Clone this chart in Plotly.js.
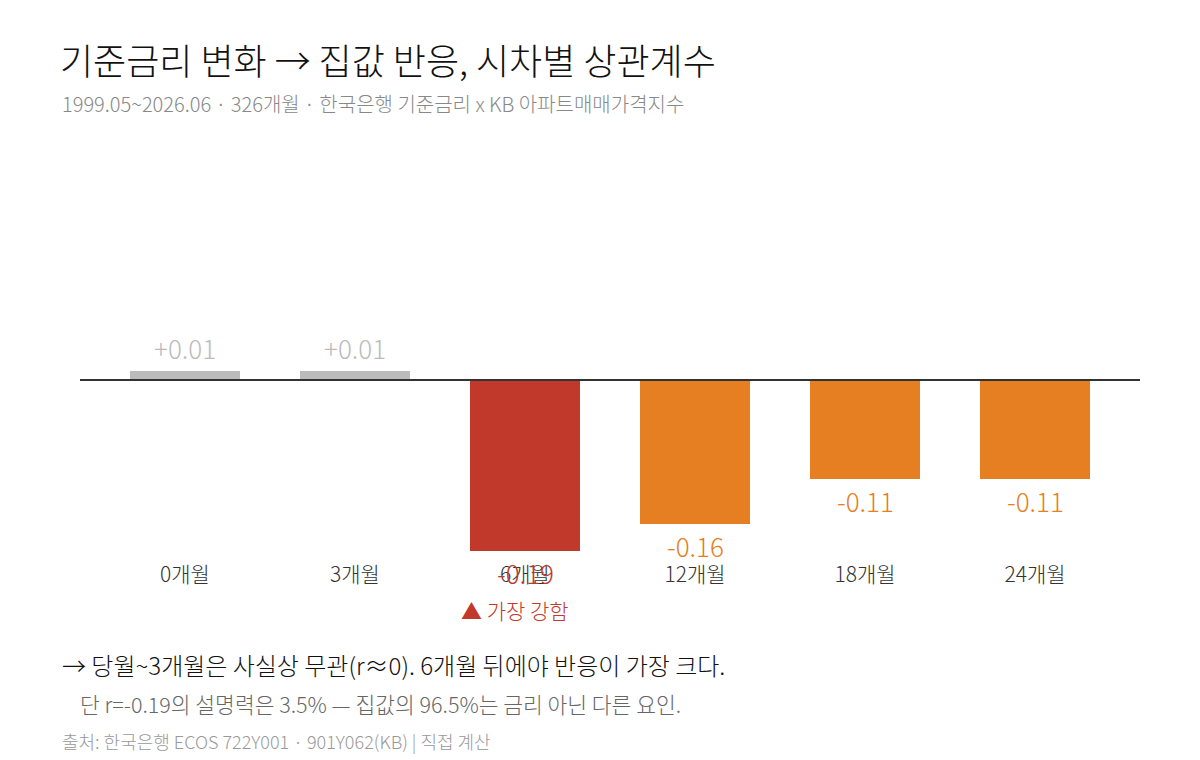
<!DOCTYPE html>
<html>
<head>
<meta charset="utf-8">
<script src="https://cdn.plot.ly/plotly-3.0.1.min.js"></script>
<style>html,body{margin:0;padding:0;background:#fff;}#chart{width:1200px;height:760px;}</style>
</head>
<body>
<div id="chart"></div>
<script>
const categories = ['0개월', '3개월', '6개월', '12개월', '18개월', '24개월'];
const values = [0.01, 0.01, -0.19, -0.16, -0.11, -0.11];
const valueLabels = ['+0.01', '+0.01', '-0.19', '-0.16', '-0.11', '-0.11'];

const FONT = '"Noto Sans CJK KR", "Noto Sans", sans-serif';
const WEIGHT = 300;
const GRAY = '#bbbbbb', RED = '#c0392b', ORANGE = '#e67e22';
const minV = Math.min(...values);
const colors = values.map(v => v >= 0 ? GRAY : (v === minV ? RED : ORANGE));

// plot area geometry (pixels) for paper-coordinate text placement
const W = 1200, H = 760, ML = 100, MR = 80, MT = 120, MB = 200;
const PW = W - ML - MR, PH = H - MT - MB;
const px = x => (x - ML) / PW;
const py = y => (H - MB - y) / PH;
const f = (size, color) => ({family: FONT, size: size, color: color, weight: WEIGHT});

const annotations = values.map((v, i) => ({
  x: categories[i], y: v, xref: 'x', yref: 'y',
  text: valueLabels[i], showarrow: false,
  yanchor: v >= 0 ? 'bottom' : 'top',
  yshift: v >= 0 ? 3 : -1,
  font: f(26, v >= 0 ? GRAY : colors[i])
}));

annotations.push(
  {x: '6개월', xref: 'x', y: py(610), yref: 'paper', text: '▲ 가장 강함', showarrow: false,
   xanchor: 'center', yanchor: 'middle', xshift: -10, font: f(21, RED)},
  {x: px(60), xref: 'paper', y: py(103), yref: 'paper', xanchor: 'left', yanchor: 'middle',
   text: '1999.05~2026.06 · 326개월 · 한국은행 기준금리 x KB 아파트매매가격지수', showarrow: false,
   font: f(20, '#888888')},
  {x: px(60), xref: 'paper', y: py(664), yref: 'paper', xanchor: 'left', yanchor: 'middle',
   text: '→ 당월~3개월은 사실상 무관(r≈0). 6개월 뒤에야 반응이 가장 크다.', showarrow: false,
   font: f(24, '#111111')},
  {x: px(78), xref: 'paper', y: py(703), yref: 'paper', xanchor: 'left', yanchor: 'middle',
   text: '단 r=-0.19의 설명력은 3.5% — 집값의 96.5%는 금리 아닌 다른 요인.', showarrow: false,
   font: f(21.5, '#666666')},
  {x: px(60), xref: 'paper', y: py(741), yref: 'paper', xanchor: 'left', yanchor: 'middle',
   text: '출처: 한국은행 ECOS 722Y001 · 901Y062(KB) | 직접 계산', showarrow: false,
   font: f(18, '#999999')}
);

const trace = {
  type: 'bar', x: categories, y: values,
  marker: {color: colors}, hoverinfo: 'skip'
};

const layout = {
  width: W, height: H,
  margin: {l: ML, r: MR, t: MT, b: MB},
  paper_bgcolor: '#ffffff', plot_bgcolor: '#ffffff',
  font: {family: FONT, weight: WEIGHT},
  bargap: 0.353,
  showlegend: false,
  title: {text: '기준금리 변화 → 집값 반응, 시차별 상관계수', x: 60 / W, xref: 'container', xanchor: 'left',
          y: 1 - 62 / H, yref: 'container', yanchor: 'middle',
          font: f(36, '#111111')},
  xaxis: {showline: false, showgrid: false, zeroline: false, ticks: '', fixedrange: true,
          tickfont: f(21, '#333333')},
  yaxis: {range: [-0.2, 0.2889], showgrid: false, zeroline: false, showticklabels: false,
          showline: false, ticks: '', fixedrange: true},
  shapes: [{type: 'line', xref: 'paper', x0: px(80), x1: px(1140), yref: 'y', y0: 0, y1: 0,
            line: {color: '#333333', width: 2}}],
  annotations: annotations
};

Plotly.newPlot('chart', [trace], layout, {displayModeBar: false, staticPlot: true});
</script>
</body>
</html>
